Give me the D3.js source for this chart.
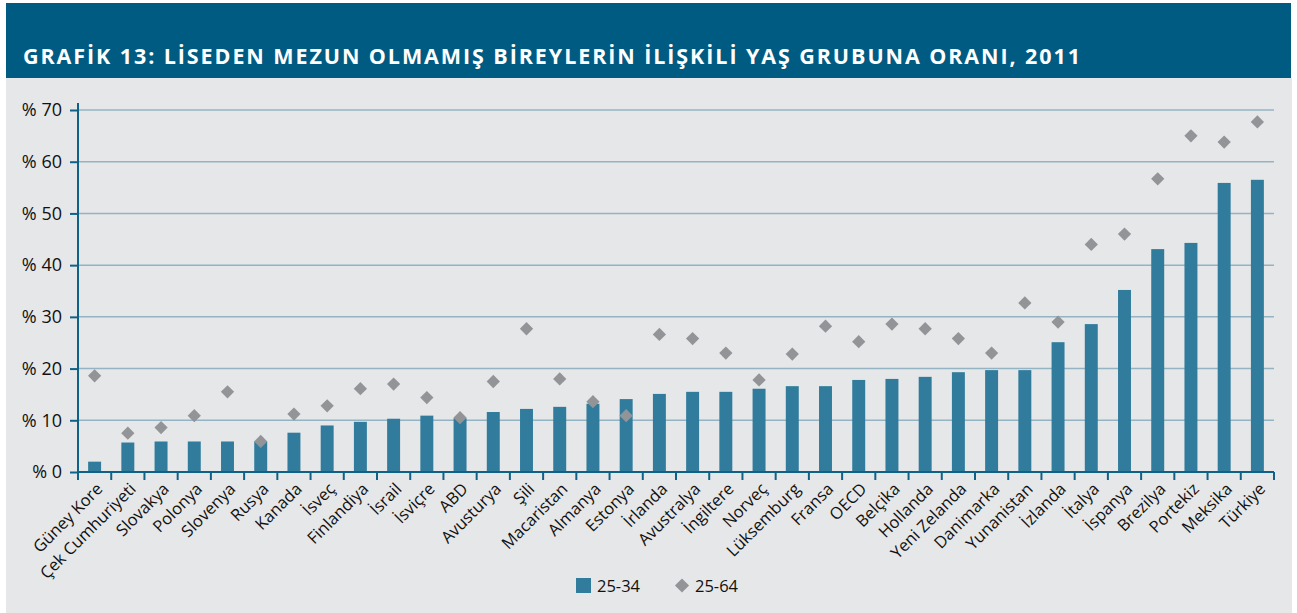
<!DOCTYPE html>
<html>
<head>
<meta charset="utf-8">
<script src="https://cdn.jsdelivr.net/npm/d3@7"></script>
<style>
  body { margin: 0; background: #fff; }
  text { font-family: "Open Sans", "Noto Sans", sans-serif; }
</style>
</head>
<body>
<div id="chart"></div>
<script>
const categories = [
  'Güney Kore', 'Çek Cumhuriyeti', 'Slovakya', 'Polonya', 'Slovenya', 'Rusya',
  'Kanada', 'İsveç', 'Finlandiya', 'İsrail', 'İsviçre', 'ABD', 'Avusturya',
  'Şili', 'Macaristan', 'Almanya', 'Estonya', 'İrlanda', 'Avustralya',
  'İngiltere', 'Norveç', 'Lüksemburg', 'Fransa', 'OECD', 'Belçika', 'Hollanda',
  'Yeni Zelanda', 'Danimarka', 'Yunanistan', 'İzlanda', 'İtalya', 'İspanya',
  'Brezilya', 'Portekiz', 'Meksika', 'Türkiye',
];

// 25-34 yaş (bars)
const values2534 = [
  2.0, 5.7, 5.9, 5.9, 5.9, 5.9, 7.6, 9.0, 9.7, 10.3, 10.9, 10.4, 11.6, 12.2,
  12.6, 13.2, 14.1, 15.1, 15.5, 15.5, 16.1, 16.6, 16.6, 17.8, 18.0, 18.4, 19.3,
  19.7, 19.7, 25.1, 28.6, 35.2, 43.1, 44.3, 55.9, 56.5,
];

// 25-64 yaş (diamonds)
const values2564 = [
  18.6, 7.5, 8.6, 10.9, 15.5, 5.9, 11.2, 12.8, 16.1, 17.0, 14.4, 10.5, 17.5,
  27.7, 18.0, 13.6, 10.9, 26.6, 25.8, 23.0, 17.8, 22.8, 28.2, 25.2, 28.6, 27.7,
  25.8, 23.0, 32.7, 29.0, 44.0, 46.0, 56.7, 65.0, 63.8, 67.7,
];

const yTicks = [0, 10, 20, 30, 40, 50, 60, 70];
const seriesNames = ['25-34', '25-64'];
const title = 'GRAFİK 13: LİSEDEN MEZUN OLMAMIŞ BİREYLERİN İLİŞKİLİ YAŞ GRUBUNA ORANI, 2011';

const width = 1297;
const height = 613;
const barColor = '#317c9c';
const dotColor = '#929497';
const axisColor = '#0f6287';
const gridColor = '#94b4c4';

const svg = d3.select('#chart')
  .append('svg')
  .attr('width', width)
  .attr('height', height);

// panels
svg.append('rect')
  .attr('x', 6).attr('y', 78)
  .attr('width', 1286).attr('height', 535)
  .attr('fill', '#e6e7e8');
svg.append('rect')
  .attr('x', 6).attr('y', 3)
  .attr('width', 1285).attr('height', 75)
  .attr('fill', '#005b82');

svg.append('text')
  .attr('x', 23)
  .attr('y', 64)
  .attr('fill', '#fff')
  .attr('font-size', 21.5)
  .attr('font-weight', 700)
  .attr('textLength', 1057)
  .attr('lengthAdjust', 'spacing')
  .text(title);

const x = d3.scaleBand()
  .domain(categories)
  .range([78, 1274])
  .paddingInner(0.61)
  .paddingOuter(0.305);

const y = d3.scaleLinear()
  .domain([0, 70])
  .range([472, 110]);

// grid
svg.append('g')
  .selectAll('line')
  .data(yTicks.filter((d) => d > 0))
  .join('line')
  .attr('x1', 78)
  .attr('x2', 1274)
  .attr('y1', (d) => y(d))
  .attr('y2', (d) => y(d))
  .attr('stroke', gridColor)
  .attr('stroke-width', 1.5);

// y axis
const yAxis = d3.axisLeft(y)
  .tickValues(yTicks)
  .tickSize(8)
  .tickPadding(8)
  .tickFormat((d) => `% ${d}`);

svg.append('g')
  .attr('transform', 'translate(78,0)')
  .call(yAxis)
  .call((g) => g.select('.domain').attr('d', `M0,103V${y(0)}`).attr('stroke', axisColor).attr('stroke-width', 2))
  .call((g) => g.selectAll('.tick line').attr('stroke', axisColor).attr('stroke-width', 2))
  .call((g) => g.selectAll('.tick text')
    .attr('fill', '#111')
    .attr('font-size', 18)
    .style('font-family', '"Open Sans", sans-serif'));

// bars
svg.append('g')
  .selectAll('rect')
  .data(categories)
  .join('rect')
  .attr('x', (d) => x(d))
  .attr('width', x.bandwidth())
  .attr('y', (d, i) => y(values2534[i]))
  .attr('height', (d, i) => y(0) - y(values2534[i]))
  .attr('fill', barColor);

// x axis: ticks at band boundaries
const step = x.step();
const boundaries = d3.range(categories.length + 1).map((i) => 78 + i * step);
const xAxisG = svg.append('g');
xAxisG.append('line')
  .attr('x1', 78).attr('x2', 1274)
  .attr('y1', y(0)).attr('y2', y(0))
  .attr('stroke', axisColor)
  .attr('stroke-width', 2);
xAxisG.selectAll('.xt')
  .data(boundaries)
  .join('line')
  .attr('class', 'xt')
  .attr('x1', (d) => d).attr('x2', (d) => d)
  .attr('y1', y(0)).attr('y2', y(0) + 8)
  .attr('stroke', axisColor)
  .attr('stroke-width', 2);

xAxisG.selectAll('text')
  .data(categories)
  .join('text')
  .attr('transform', (d) => `translate(${x(d) + x.bandwidth() / 2 + 9},${y(0) + 18}) rotate(-45)`)
  .attr('text-anchor', 'end')
  .attr('font-size', 16.5)
  .attr('fill', '#111')
  .text((d) => d);

// diamonds
const diamond = d3.symbol(d3.symbolSquare, 88);
svg.append('g')
  .selectAll('path')
  .data(categories)
  .join('path')
  .attr('d', diamond)
  .attr('transform', (d, i) => `translate(${x(d) + x.bandwidth() / 2},${y(values2564[i])}) rotate(45)`)
  .attr('fill', dotColor);

// legend
const legend = svg.append('g');
legend.append('rect')
  .attr('x', 576).attr('y', 578)
  .attr('width', 15).attr('height', 15)
  .attr('fill', barColor);
legend.append('text')
  .attr('x', 597).attr('y', 592)
  .attr('font-size', 16.5)
  .attr('fill', '#111')
  .text(seriesNames[0]);
legend.append('path')
  .attr('d', d3.symbol(d3.symbolSquare, 100))
  .attr('transform', 'translate(682,585.5) rotate(45)')
  .attr('fill', dotColor);
legend.append('text')
  .attr('x', 695).attr('y', 592)
  .attr('font-size', 16.5)
  .attr('fill', '#111')
  .text(seriesNames[1]);
</script>
</body>
</html>
